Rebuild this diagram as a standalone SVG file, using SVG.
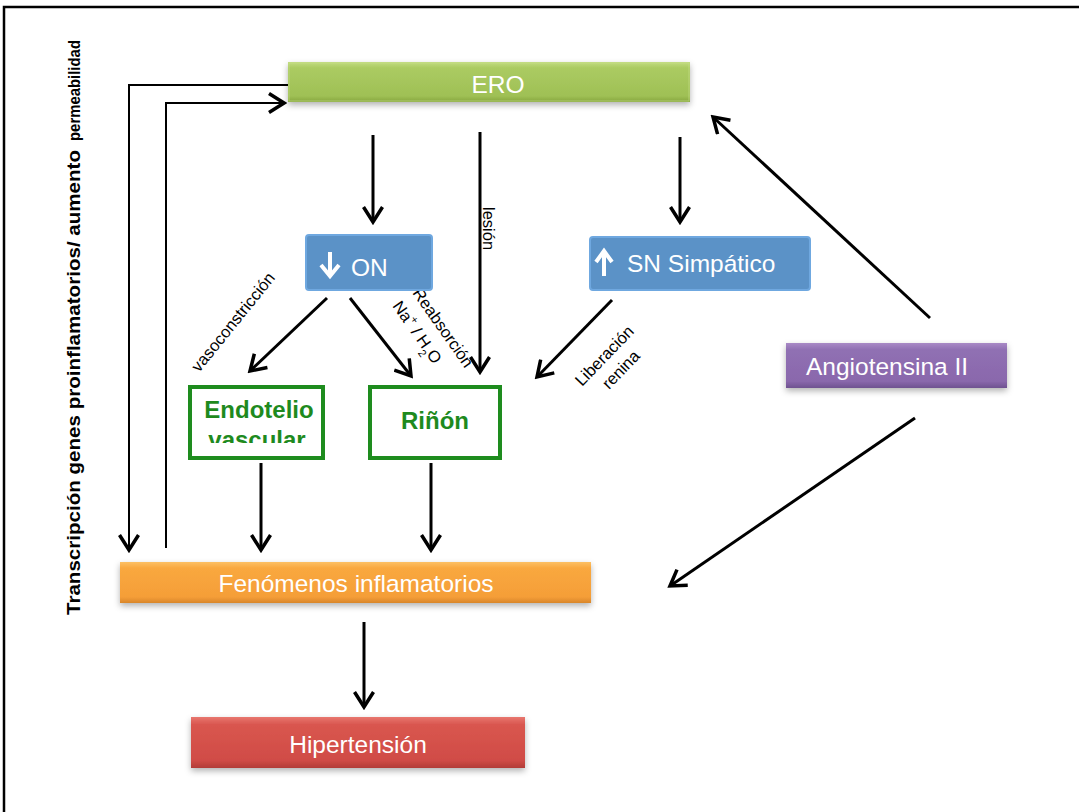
<svg xmlns="http://www.w3.org/2000/svg" width="1079" height="812" viewBox="0 0 1079 812">
<style>
.lbl{font-family:"Liberation Sans",Arial,sans-serif;fill:#fff;font-size:24.5px}
.small{font-family:"Liberation Sans",Arial,sans-serif;fill:#000;font-size:16.5px}
.gtxt{font-family:"Liberation Sans",Arial,sans-serif;fill:#1e8a1e;font-size:24px;font-weight:bold}
.conn{stroke:#000;stroke-width:3;fill:none}
.thin{stroke:#000;stroke-width:2;fill:none}
.gbox{fill:#fff;stroke:#1e8c1e;stroke-width:4}
.side{font-family:"Liberation Sans",Arial,sans-serif;font-weight:bold;fill:#000}
</style>
<defs>
<marker id="ah" viewBox="0 0 22 22" refX="19" refY="11" markerWidth="22" markerHeight="22" markerUnits="userSpaceOnUse" orient="auto">
<path d="M4,1.5 L19,11 L4,20.5" fill="none" stroke="#000" stroke-width="3.5"/>
</marker>
<filter id="sh" x="-10%" y="-30%" width="120%" height="170%">
<feDropShadow dx="0" dy="3" stdDeviation="3" flood-color="#000" flood-opacity="0.3"/>
</filter>
<linearGradient id="gGreen" x1="0" y1="0" x2="0" y2="1">
<stop offset="0" stop-color="#c2dc80"/><stop offset="0.15" stop-color="#abcb62"/><stop offset="0.85" stop-color="#9fc055"/><stop offset="1" stop-color="#86a63e"/>
</linearGradient>
<linearGradient id="gOrange" x1="0" y1="0" x2="0" y2="1">
<stop offset="0" stop-color="#fcc064"/><stop offset="0.15" stop-color="#f9a83f"/><stop offset="0.85" stop-color="#f59e38"/><stop offset="1" stop-color="#d9862a"/>
</linearGradient>
<linearGradient id="gRed" x1="0" y1="0" x2="0" y2="1">
<stop offset="0" stop-color="#e8776f"/><stop offset="0.15" stop-color="#d9564f"/><stop offset="0.85" stop-color="#d04c46"/><stop offset="1" stop-color="#b23c37"/>
</linearGradient>
<linearGradient id="gPurple" x1="0" y1="0" x2="0" y2="1">
<stop offset="0" stop-color="#a98ac6"/><stop offset="0.15" stop-color="#9070b3"/><stop offset="0.85" stop-color="#8a68ac"/><stop offset="1" stop-color="#6f5290"/>
</linearGradient>
<clipPath id="clipEndo"><rect x="192" y="389" width="129" height="54"/></clipPath>
</defs>

<rect x="4" y="7" width="1100" height="900" fill="#fff" stroke="#000" stroke-width="2.5"/>

<g id="connectors">
<polyline class="thin" points="288,85 129,85 129,550" marker-end="url(#ah)"/>
<polyline class="thin" points="166,548 166,103 284,103" marker-end="url(#ah)"/>
<line class="conn" x1="373" y1="135" x2="373" y2="222" marker-end="url(#ah)"/>
<line class="conn" x1="480" y1="132" x2="480" y2="372" marker-end="url(#ah)"/>
<line class="conn" x1="680" y1="137" x2="680" y2="222" marker-end="url(#ah)"/>
<line class="conn" x1="930" y1="318" x2="713" y2="117" marker-end="url(#ah)"/>
<line class="conn" x1="327" y1="298" x2="250" y2="371" marker-end="url(#ah)"/>
<line class="conn" x1="350" y1="298" x2="411" y2="376" marker-end="url(#ah)"/>
<line class="conn" x1="612" y1="300" x2="537" y2="377" marker-end="url(#ah)"/>
<line class="conn" x1="915" y1="418" x2="670" y2="586" marker-end="url(#ah)"/>
<line class="conn" x1="261" y1="463" x2="261" y2="550" marker-end="url(#ah)"/>
<line class="conn" x1="431" y1="463" x2="431" y2="550" marker-end="url(#ah)"/>
<line class="conn" x1="364" y1="622" x2="364" y2="707" marker-end="url(#ah)"/>
<text class="small" transform="translate(483,207) rotate(90)">lesión</text>
<text class="small" transform="translate(199,373) rotate(-51)">vasoconstricción</text>
<text class="small" transform="translate(412,293) rotate(55)">Reabsorción</text>
<text class="small" transform="translate(392,306) rotate(55)">Na<tspan font-size="11" dy="-7">+</tspan><tspan dy="7"> / H</tspan><tspan font-size="11" dy="6">2</tspan><tspan dy="-6">O</tspan></text>
<text class="small" transform="translate(582,387) rotate(-46)">Liberación</text>
<text class="small" transform="translate(609,390) rotate(-46)">renina</text>
</g>

<g id="side-label">
<text class="side" transform="translate(80,615) rotate(-90)" font-size="18" textLength="465" lengthAdjust="spacingAndGlyphs">Transcripción genes proinflamatorios/ aumento</text>
<text class="side" transform="translate(80,141) rotate(-90)" font-size="16.5" textLength="101" lengthAdjust="spacingAndGlyphs">permeabilidad</text>
</g>

<g id="ero">
<rect x="288" y="62" width="402" height="40" fill="url(#gGreen)" filter="url(#sh)"/>
<rect x="289" y="63" width="400" height="38" fill="none" stroke="#c8e08e" stroke-width="1" opacity="0.6"/>
<text class="lbl" x="498" y="93" text-anchor="middle">ERO</text>
</g>

<g id="on">
<rect x="306" y="235" width="126" height="55" rx="3" fill="#5b92c7" stroke="#6fa8e0" stroke-width="2"/>
<path d="M330,252 L330,276 M321,265 L330,276 L339,265" stroke="#fff" stroke-width="4" fill="none"/>
<text class="lbl" x="351" y="276">ON</text>
</g>

<g id="sn">
<rect x="590" y="237" width="220" height="53" rx="3" fill="#5b92c7" stroke="#6fa8e0" stroke-width="2"/>
<path d="M604,276 L604,251 M596,262 L604,251 L612,262" stroke="#fff" stroke-width="4" fill="none"/>
<text class="lbl" x="627" y="272">SN Simpático</text>
</g>

<g id="endotelio">
<rect class="gbox" x="190" y="387" width="133" height="71"/>
<g clip-path="url(#clipEndo)">
<text class="gtxt" x="259" y="418" text-anchor="middle">Endotelio</text>
<text class="gtxt" x="257" y="448" text-anchor="middle">vascular</text>
</g>
</g>

<g id="rinon">
<rect class="gbox" x="370" y="387" width="130" height="71"/>
<text class="gtxt" x="435" y="429" text-anchor="middle">Riñón</text>
</g>

<g id="angiotensina">
<rect x="786" y="343" width="221" height="45" fill="url(#gPurple)" filter="url(#sh)"/>
<text class="lbl" x="806" y="375">Angiotensina II</text>
</g>

<g id="fenomenos">
<rect x="120" y="562" width="471" height="41" fill="url(#gOrange)" filter="url(#sh)"/>
<text class="lbl" x="356" y="592" text-anchor="middle">Fenómenos inflamatorios</text>
</g>

<g id="hipertension">
<rect x="191" y="717" width="334" height="51" fill="url(#gRed)" filter="url(#sh)"/>
<text class="lbl" x="358" y="753" text-anchor="middle">Hipertensión</text>
</g>
</svg>
